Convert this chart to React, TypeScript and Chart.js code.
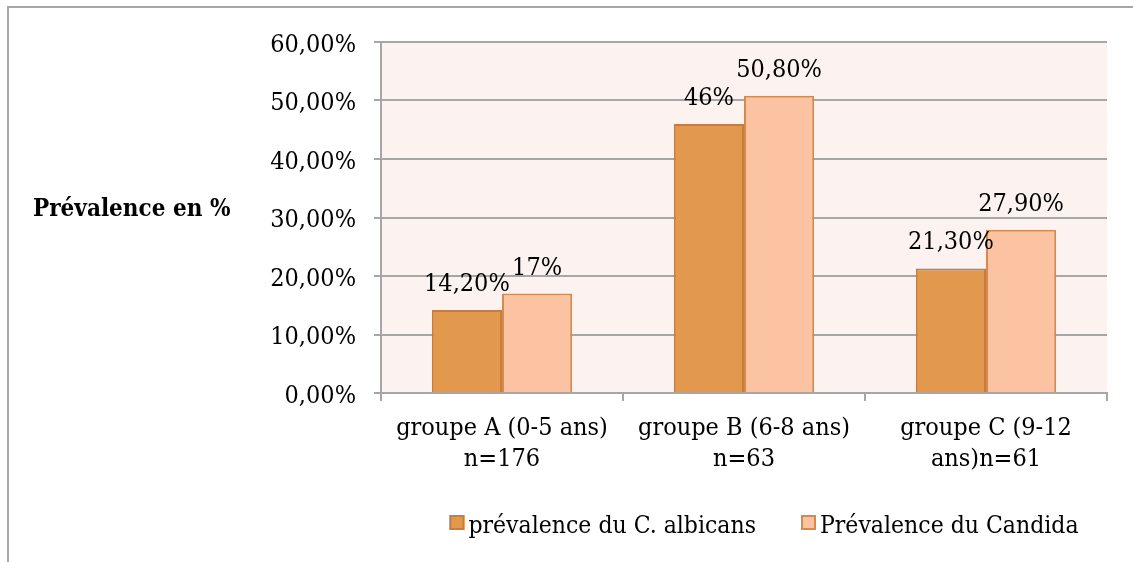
import React, { useEffect, useRef } from "react";
import { Chart, registerables } from "chart.js";

Chart.register(...registerables);

const categories: string[][] = [
  ["groupe A (0-5 ans)", "n=176"],
  ["groupe B (6-8 ans)", "n=63"],
  ["groupe C (9-12", "ans)n=61"],
];
const seriesNames = ["prévalence du C. albicans", "Prévalence du Candida"];
const albicansValues = [14.2, 46, 21.3];
const candidaValues = [17, 50.8, 27.9];
const albicansLabels = ["14,20%", "46%", "21,30%"];
const candidaLabels = ["17%", "50,80%", "27,90%"];
const yTickValues = [0, 10, 20, 30, 40, 50, 60];
const yTickLabels = ["0,00%", "10,00%", "20,00%", "30,00%", "40,00%", "50,00%", "60,00%"];
const yAxisTitle = "Prévalence en %";

const FONT = "'DejaVu Serif Condensed', 'DejaVu Serif', serif";
const GRID = "#A6A6A6";
const fills = ["#E3994D", "#FBC3A2"];
const borders = ["#C67D3D", "#D68B4D"];
const pointLabels = [albicansLabels, candidaLabels];

const bgPlugin = {
  id: "plotBg",
  beforeDraw(chart: any) {
    const { ctx, chartArea } = chart;
    ctx.save();
    ctx.fillStyle = "#FCF3F0";
    ctx.fillRect(chartArea.left, chartArea.top, chartArea.right - chartArea.left, chartArea.bottom - chartArea.top);
    ctx.restore();
  },
};

const dataLabelPlugin = {
  id: "dataLabels",
  afterDatasetsDraw(chart: any) {
    const { ctx } = chart;
    ctx.save();
    ctx.font = `25px ${FONT}`;
    ctx.fillStyle = "#000";
    ctx.textAlign = "center";
    ctx.textBaseline = "alphabetic";
    chart.data.datasets.forEach((_ds: any, di: number) => {
      const meta = chart.getDatasetMeta(di);
      meta.data.forEach((el: any, i: number) => {
        ctx.fillText(pointLabels[di][i], el.x, el.y - 19);
      });
    });
    ctx.restore();
  },
};

const titleLegendPlugin = {
  id: "titleLegend",
  afterDraw(chart: any) {
    const { ctx, chartArea } = chart;
    ctx.save();
    ctx.font = `bold 24px ${FONT}`;
    ctx.fillStyle = "#000";
    ctx.textAlign = "left";
    ctx.textBaseline = "alphabetic";
    ctx.fillText(yAxisTitle, 33, 216);

    ctx.font = `24.5px ${FONT}`;
    const box = 15;
    const gap = 4;
    const spacing = 45;
    const widths = chart.data.datasets.map((ds: any) => ctx.measureText(ds.label).width);
    const total = widths.reduce((a: number, w: number) => a + box + gap + w, 0) + spacing * (widths.length - 1);
    const center = (chartArea.left + chartArea.right) / 2 + 20;
    let x = center - total / 2;
    const boxTop = 515;
    const baseline = 533;
    chart.data.datasets.forEach((ds: any, i: number) => {
      ctx.fillStyle = ds.backgroundColor;
      ctx.fillRect(x, boxTop, box, box);
      ctx.strokeStyle = ds.borderColor;
      ctx.lineWidth = 2;
      ctx.strokeRect(x + 1, boxTop + 1, box - 2, box - 2);
      ctx.fillStyle = "#000";
      ctx.fillText(ds.label, x + box + gap, baseline);
      x += box + gap + widths[i] + spacing;
    });
    ctx.restore();
  },
};

export default function App() {
  const canvasRef = useRef<HTMLCanvasElement | null>(null);

  useEffect(() => {
    if (!canvasRef.current) return;
    const chart = new Chart(canvasRef.current, {
      type: "bar",
      data: {
        labels: categories,
        datasets: [
          {
            label: seriesNames[0],
            data: albicansValues,
            backgroundColor: fills[0],
            borderColor: borders[0],
            borderWidth: 2,
            categoryPercentage: 0.58,
            barPercentage: 1,
          },
          {
            label: seriesNames[1],
            data: candidaValues,
            backgroundColor: fills[1],
            borderColor: borders[1],
            borderWidth: 2,
            categoryPercentage: 0.58,
            barPercentage: 1,
          },
        ],
      },
      options: {
        animation: false,
        responsive: true,
        maintainAspectRatio: false,
        layout: { padding: { top: 42, right: 26, left: 0, bottom: 0 } },
        plugins: {
          legend: { display: false },
          tooltip: { enabled: false },
        },
        scales: {
          x: {
            afterFit: (scale: any) => {
              scale.height = 169;
            },
            grid: {
              display: true,
              drawOnChartArea: false,
              drawTicks: true,
              tickLength: 8,
              color: GRID,
              lineWidth: 2,
            },
            border: { display: true, color: GRID, width: 2 },
            ticks: {
              color: "#000",
              font: { family: FONT, size: 25, lineHeight: 1.24 },
              padding: 12,
              maxRotation: 0,
              autoSkip: false,
            },
          },
          y: {
            min: 0,
            max: 60,
            afterFit: (scale: any) => {
              scale.width = 381;
            },
            afterBuildTicks: (scale: any) => {
              scale.ticks = yTickValues.map((v) => ({ value: v }));
            },
            grid: {
              color: GRID,
              lineWidth: 2,
              drawTicks: true,
              tickLength: 7,
            },
            border: { display: true, color: GRID, width: 2 },
            ticks: {
              color: "#000",
              font: { family: FONT, size: 25 },
              padding: 18,
              labelOffset: 3,
              callback: (value: any) => {
                const idx = yTickValues.indexOf(Number(value));
                return idx >= 0 ? yTickLabels[idx] : "";
              },
            },
          },
        },
      },
      plugins: [bgPlugin, dataLabelPlugin, titleLegendPlugin],
    });
    return () => chart.destroy();
  }, []);

  return (
    <>
      <div
        style={{
          position: "fixed",
          left: 7,
          top: 6,
          width: 1126,
          height: 556,
          borderTop: `2px solid ${GRID}`,
          borderLeft: `2px solid ${GRID}`,
          boxSizing: "border-box",
          background: "#fff",
        }}
      />
      <div style={{ position: "fixed", left: 0, top: 0, width: 1133, height: 562 }}>
        <canvas ref={canvasRef} />
      </div>
    </>
  );
}
